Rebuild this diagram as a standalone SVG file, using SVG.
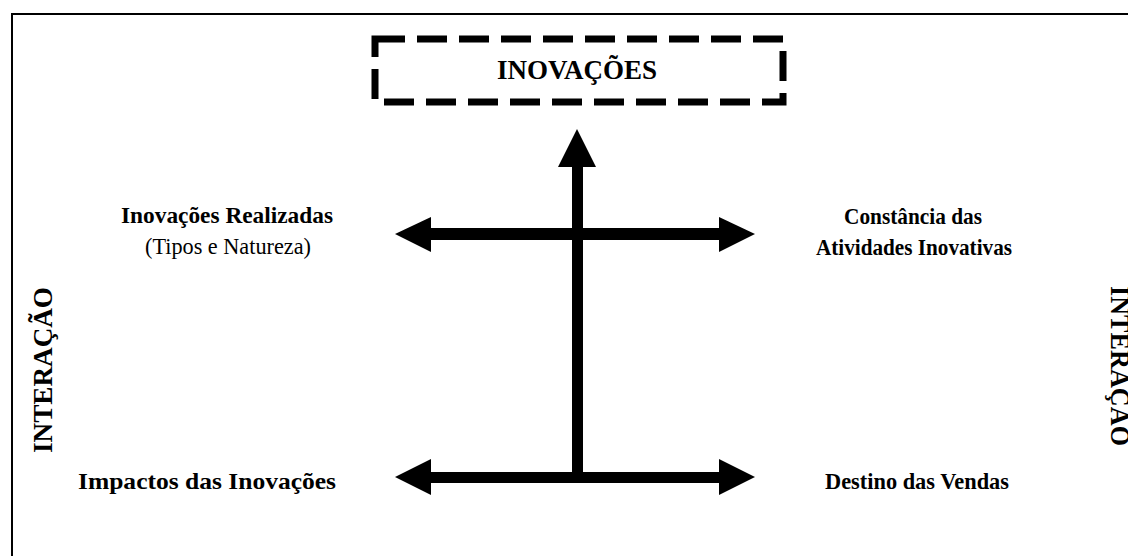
<svg xmlns="http://www.w3.org/2000/svg" width="1128" height="556" viewBox="0 0 1128 556">
  <style>
    .lbl { font-family: "Liberation Serif", "Times New Roman", serif; font-size: 24px; fill: #000; text-anchor: middle; }
    .b { font-weight: bold; }
    .big { font-size: 27px; }
    .frame { fill: none; stroke: #000; stroke-width: 2; }
    .dash { fill: none; stroke: #000; stroke-width: 7; stroke-dasharray: 30 12; }
    .arrow { fill: #000; stroke: none; }
  </style>
  <rect width="1128" height="556" fill="#fff"/>

  <!-- outer frame, runs off the right and bottom edges -->
  <rect class="frame" x="12" y="14" width="1140" height="560"/>

  <!-- top box -->
  <g id="inovacoes">
    <rect class="dash" x="375" y="39" width="408" height="63"/>
    <text class="lbl b big" x="577" y="79" textLength="160" lengthAdjust="spacingAndGlyphs">INOVAÇÕES</text>
  </g>

  <!-- side labels -->
  <g id="interacao-left">
    <text class="lbl b big" transform="translate(52,370) rotate(-90)" textLength="166" lengthAdjust="spacingAndGlyphs">INTERAÇÃO</text>
  </g>
  <g id="interacao-right">
    <text class="lbl b big" transform="translate(1111,366) rotate(90)" textLength="160" lengthAdjust="spacingAndGlyphs">INTERAÇÃO</text>
  </g>

  <g id="inovacoes-realizadas">
    <text class="lbl b" x="227" y="223" textLength="212" lengthAdjust="spacingAndGlyphs">Inovações Realizadas</text>
    <text class="lbl" x="228" y="254" textLength="166" lengthAdjust="spacingAndGlyphs">(Tipos e Natureza)</text>
  </g>
  <g id="constancia">
    <text class="lbl b" x="913" y="224" textLength="138" lengthAdjust="spacingAndGlyphs">Constância das</text>
    <text class="lbl b" x="914" y="255" textLength="196" lengthAdjust="spacingAndGlyphs">Atividades Inovativas</text>
  </g>
  <g id="impactos">
    <text class="lbl b" x="207" y="489" textLength="258" lengthAdjust="spacingAndGlyphs">Impactos das Inovações</text>
  </g>
  <g id="destino">
    <text class="lbl b" x="917" y="489" textLength="184" lengthAdjust="spacingAndGlyphs">Destino das Vendas</text>
  </g>

  <!-- connectors -->
  <g id="connectors">
    <!-- vertical arrow up to the box -->
    <rect class="arrow" x="572" y="160" width="11" height="323"/>
    <polygon class="arrow" points="577,129 596,167 558,167"/>
    <!-- upper two-headed arrow -->
    <rect class="arrow" x="425" y="228" width="300" height="12"/>
    <polygon class="arrow" points="395,234 431,217 431,252"/>
    <polygon class="arrow" points="755,234 719,217 719,252"/>
    <!-- lower two-headed arrow -->
    <rect class="arrow" x="425" y="472" width="300" height="11"/>
    <polygon class="arrow" points="395,477 431,459 431,495"/>
    <polygon class="arrow" points="755,477 719,459 719,495"/>
  </g>
</svg>
